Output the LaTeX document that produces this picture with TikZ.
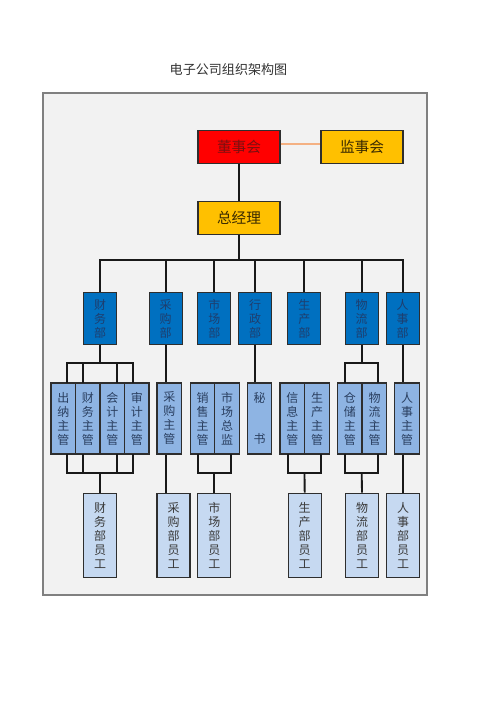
\documentclass[tikz,border=0pt]{standalone}
\usepackage{fontspec}
\newfontfamily\cjk{Noto Sans CJK SC}
\definecolor{framebg}{HTML}{F2F2F2}
\definecolor{framecol}{HTML}{808080}
\definecolor{redbox}{HTML}{FF0000}
\definecolor{redtxt}{HTML}{7A1010}
\definecolor{amber}{HTML}{FFC000}
\definecolor{ambertxt}{HTML}{3A2A00}
\definecolor{lone}{HTML}{0070C0}
\definecolor{lonetxt}{HTML}{1E3E6E}
\definecolor{ltwo}{HTML}{8EB4E3}
\definecolor{ltwotxt}{HTML}{2A3F60}
\definecolor{lthree}{HTML}{C6D9F1}
\definecolor{lthreetxt}{HTML}{3A3A3A}
\definecolor{salmon}{HTML}{F4B183}
\definecolor{boxline}{HTML}{2E2E2E}
\begin{document}
\begin{tikzpicture}[x=0.75pt,y=-0.75pt,
  topbox/.style={draw=boxline,line width=0.9pt,minimum width=61.5pt,minimum height=24.4pt,inner sep=0pt,font=\cjk\fontsize{11}{13}\selectfont},
  lonebox/.style={draw=boxline,line width=0.6pt,fill=lone,text=lonetxt,minimum width=24.75pt,minimum height=39pt,inner sep=0pt,align=center,font=\cjk\fontsize{9}{10.5}\selectfont},
  ltwobox/.style={draw=boxline,line width=1pt,fill=ltwo,text=ltwotxt,minimum width=18.4pt,minimum height=53.3pt,inner sep=0pt,align=center,font=\cjk\fontsize{9}{10.5}\selectfont},
  lthreebox/.style={draw=boxline,line width=1pt,fill=lthree,text=lthreetxt,minimum width=24.75pt,minimum height=63pt,inner sep=0pt,align=center,font=\cjk\fontsize{9}{10.5}\selectfont},
  conn/.style={draw=black!90,line width=1.4pt}]
\useasboundingbox (0,0) rectangle (500,708);
\fill[white] (0,0) rectangle (500,708);
% title
\node[font=\cjk\fontsize{9.8}{12}\selectfont,text=black!80] (title) at (228.5,70) {电子公司组织架构图};
% frame
\draw[fill=framebg,draw=framecol,line width=0.8pt] (43,93) rectangle (427,595);

% junction coordinates
\coordinate (bus) at (239,260);
\coordinate (cwt) at (100,362.7);
\coordinate (cwb) at (100,472.7);
\coordinate (scb) at (214.3,472.7);
\coordinate (sctwob) at (304.5,472.7);
\coordinate (wlt) at (361.7,363.3);
\coordinate (wlb) at (361.7,472.7);

% top level
\node[topbox,fill=redbox,text=redtxt] (dsh) at (239,147) {董事会};
\node[topbox,fill=amber,text=ambertxt] (jsh) at (362,147) {监事会};
\node[topbox,fill=amber,text=ambertxt] (zjl) at (239,218) {总经理};

% level 1
\node[lonebox] (cw) at (100,318.5) {财\\务\\部};
\node[lonebox] (cg) at (165.7,318.5) {采\\购\\部};
\node[lonebox] (sc) at (214.3,318.5) {市\\场\\部};
\node[lonebox] (xz) at (255,318.5) {行\\政\\部};
\node[lonebox] (sctwo) at (304.3,318.5) {生\\产\\部};
\node[lonebox] (wl) at (361.7,318.5) {物\\流\\部};
\node[lonebox] (rs) at (402.7,318.5) {人\\事\\部};

% level 2
\node[ltwobox] (cn) at (63.25,418.5) {出\\纳\\主\\管};
\node[ltwobox] (cwzg) at (87.75,418.5) {财\\务\\主\\管};
\node[ltwobox] (kj) at (112.25,418.5) {会\\计\\主\\管};
\node[ltwobox] (sj) at (136.75,418.5) {审\\计\\主\\管};
\node[ltwobox] (cgzg) at (169.3,418.5) {采\\购\\主\\管};
\node[ltwobox] (xs) at (202.5,418.5) {销\\售\\主\\管};
\node[ltwobox] (sczj) at (227,418.5) {市\\场\\总\\监};
\node[ltwobox] (ms) at (259.5,418.5) {秘\\[20pt]书};
\node[ltwobox] (xx) at (292.3,418.5) {信\\息\\主\\管};
\node[ltwobox] (sczg) at (317,418.5) {生\\产\\主\\管};
\node[ltwobox] (cc) at (349.8,418.5) {仓\\储\\主\\管};
\node[ltwobox] (wlzg) at (374.5,418.5) {物\\流\\主\\管};
\node[ltwobox] (rszg) at (407,418.5) {人\\事\\主\\管};

% level 3
\node[lthreebox] (cwyg) at (100,535.3) {财\\务\\部\\员\\工};
\node[lthreebox] (cgyg) at (173.5,535.3) {采\\购\\部\\员\\工};
\node[lthreebox] (scyg) at (214.3,535.3) {市\\场\\部\\员\\工};
\node[lthreebox] (sctwoyg) at (304.7,535.3) {生\\产\\部\\员\\工};
\node[lthreebox] (wlyg) at (362,535.3) {物\\流\\部\\员\\工};
\node[lthreebox] (rsyg) at (403,535.3) {人\\事\\部\\员\\工};

\draw[draw=salmon,line width=1.6pt] (dsh.east |- 0,144) -- (jsh.west |- 0,144);
\draw[conn] (dsh) -- (zjl);
\draw[conn] (zjl.south) -- (bus);
\draw[conn] (cw.north) |- (bus) -| (rs.north);
\draw[conn] (cg.north) -- (cg.north |- bus);
\draw[conn] (sc.north) -- (sc.north |- bus);
\draw[conn] (xz.north) -- (xz.north |- bus);
\draw[conn] (sctwo.north) -- (sctwo.north |- bus);
\draw[conn] (wl.north) -- (wl.north |- bus);

% finance brackets
\draw[conn] (cw.south) -- (cwt);
\draw[conn] (66.7,383) -- (66.7,362.7) -- (132.7,362.7) -- (132.7,383);
\draw[conn] (83.3,362.7) -- (83.3,383);
\draw[conn] (116.7,362.7) -- (116.7,383);
\draw[conn] (66.7,454) -- (66.7,472.7) -- (132.7,472.7) -- (132.7,454);
\draw[conn] (83.3,454) -- (83.3,472.7);
\draw[conn] (116.7,454) -- (116.7,472.7);
\draw[conn] (cwb) -- (cwyg.north);

% purchasing
\draw[conn] (cg.south) -- (cg.south |- cgzg.north);
\draw[conn] (cg.south |- cgzg.south) -- (cg.south |- cgyg.north);

% market
\draw[conn] (198.3,454) -- (198.3,472.7) -- (231,472.7) -- (231,454);
\draw[conn] (scb) -- (scyg.north);

% admin
\draw[conn] (xz.south) -- (xz.south |- ms.north);

% production
\draw[conn] (288.3,454) -- (288.3,472.7) -- (321,472.7) -- (321,454);
\draw[conn] (sctwob) -- (sctwoyg.north);

% logistics
\draw[conn] (wl.south) -- (wlt);
\draw[conn] (345,383) -- (345,363.3) -- (378.3,363.3) -- (378.3,383);
\draw[conn] (345,454) -- (345,472.7) -- (378.3,472.7) -- (378.3,454);
\draw[conn] (wlb) -- (wlyg.north);

% HR
\draw[conn] (rs.south) -- (rs.south |- rszg.north);
\draw[conn] (rs.south |- rszg.south) -- (rs.south |- rsyg.north);
\end{tikzpicture}
\end{document}
